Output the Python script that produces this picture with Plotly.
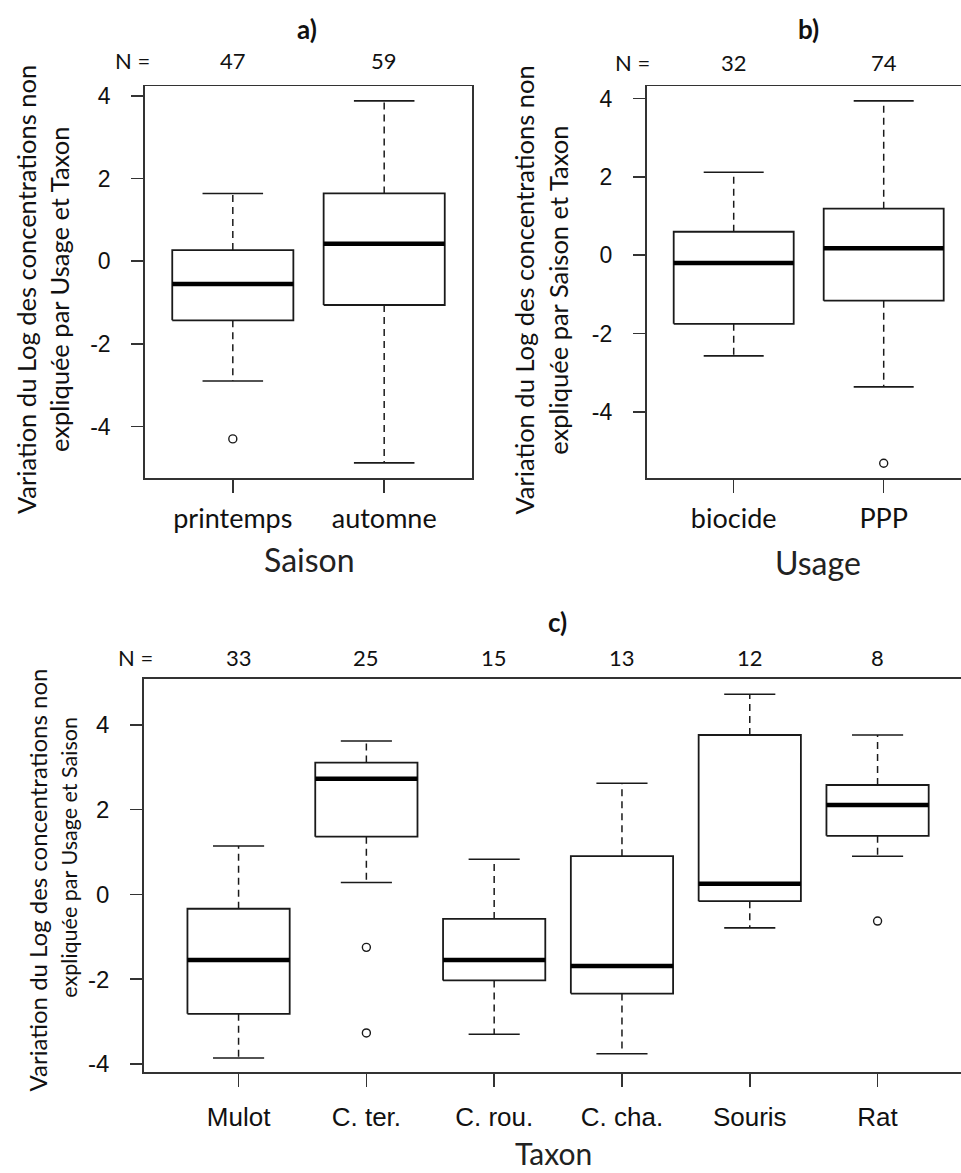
import plotly.graph_objects as go

W, H = 961, 1173

# ---------------- data ----------------
# Panel a) Saison
a_cats = ["printemps", "automne"]
a_n = [47, 59]
a_lw = [-2.90, -4.88]
a_q1 = [-1.43, -1.06]
a_med = [-0.55, 0.42]
a_q3 = [0.27, 1.64]
a_uw = [1.64, 3.88]
a_out = [[-4.30], []]

# Panel b) Usage
b_cats = ["biocide", "PPP"]
b_n = [32, 74]
b_lw = [-2.57, -3.36]
b_q1 = [-1.75, -1.16]
b_med = [-0.20, 0.18]
b_q3 = [0.60, 1.19]
b_uw = [2.12, 3.94]
b_out = [[], [-5.31]]

# Panel c) Taxon
c_cats = ["Mulot", "C. ter.", "C. rou.", "C. cha.", "Souris", "Rat"]
c_n = [33, 25, 15, 13, 12, 8]
c_lw = [-3.86, 0.28, -3.30, -3.76, -0.79, 0.90]
c_q1 = [-2.82, 1.36, -2.03, -2.34, -0.16, 1.38]
c_med = [-1.55, 2.73, -1.55, -1.69, 0.25, 2.11]
c_q3 = [-0.34, 3.11, -0.58, 0.90, 3.76, 2.58]
c_uw = [1.14, 3.62, 0.83, 2.62, 4.72, 3.76]
c_out = [[], [-1.25, -3.27], [], [], [], [-0.63]]

y_ticks = [-4, -2, 0, 2, 4]

# ---------------- helpers ----------------
def px(p):
    return p / W

def py(p):
    return 1 - p / H

BOXW = 0.4   # half box width (R default 0.8)
CAPW = 0.2   # half staple width
LINE = "#1a1a1a"


def box_traces(cats, lw, q1, med, q3, uw, outs, xa, ya):
    bx, by, mx, my, wx, wy, cx, cy, ox, oy = [], [], [], [], [], [], [], [], [], []
    for i in range(len(cats)):
        c = i + 1
        bx += [c - BOXW, c + BOXW, c + BOXW, c - BOXW, c - BOXW, None]
        by += [q1[i], q1[i], q3[i], q3[i], q1[i], None]
        mx += [c - BOXW, c + BOXW, None]
        my += [med[i], med[i], None]
        wx += [c, c, None, c, c, None]
        wy += [q3[i], uw[i], None, q1[i], lw[i], None]
        cx += [c - CAPW, c + CAPW, None, c - CAPW, c + CAPW, None]
        cy += [uw[i], uw[i], None, lw[i], lw[i], None]
        for o in outs[i]:
            ox.append(c)
            oy.append(o)
    common = dict(xaxis=xa, yaxis=ya, showlegend=False, hoverinfo="skip")
    return [
        go.Scatter(x=wx, y=wy, mode="lines", line=dict(color=LINE, width=1.5, dash="7px,5px"), **common),
        go.Scatter(x=cx, y=cy, mode="lines", line=dict(color=LINE, width=1.6), **common),
        go.Scatter(x=bx, y=by, mode="lines", line=dict(color=LINE, width=1.8), fill="toself",
                   fillcolor="white", **common),
        go.Scatter(x=mx, y=my, mode="lines", line=dict(color="black", width=4.5), **common),
        go.Scatter(x=ox, y=oy, mode="markers",
                   marker=dict(symbol="circle-open", size=8, color=LINE, line=dict(width=1.4)), **common),
    ]


fig = go.Figure()
for t in box_traces(a_cats, a_lw, a_q1, a_med, a_q3, a_uw, a_out, "x", "y"):
    fig.add_trace(t)
for t in box_traces(b_cats, b_lw, b_q1, b_med, b_q3, b_uw, b_out, "x2", "y2"):
    fig.add_trace(t)
for t in box_traces(c_cats, c_lw, c_q1, c_med, c_q3, c_uw, c_out, "x3", "y3"):
    fig.add_trace(t)

LAT = "Lato, 'Open Sans', sans-serif"
ARI = "'Liberation Sans', Arial, sans-serif"
AXC = "#333333"

def xax(domain, rng, cats, font, size, standoff, mirror=True):
    return dict(domain=domain, range=rng, tickvals=list(range(1, len(cats) + 1)), ticktext=cats,
                ticks="outside", ticklen=13, tickwidth=1.5, tickcolor=AXC,
                showline=True, linecolor=AXC, linewidth=1.8, mirror=mirror,
                showgrid=False, zeroline=False, fixedrange=True,
                tickfont=dict(family=font, size=size, color="#111"), ticklabelstandoff=standoff)

def yax(domain, rng, mirror, size, anchor):
    return dict(domain=domain, range=rng, tickvals=y_ticks, ticktext=[str(v) for v in y_ticks],
                ticks="outside", ticklen=12, tickwidth=1.5, tickcolor=AXC,
                showline=True, linecolor=AXC, linewidth=1.8, mirror=mirror,
                showgrid=False, zeroline=False, fixedrange=True, anchor=anchor,
                tickfont=dict(family=ARI, size=size, color="#111"), ticklabelstandoff=16)

top_dom = [py(478), py(84)]
bot_dom = [py(1076.7), py(680.7)]

fig.update_layout(
    width=W, height=H, autosize=False,
    margin=dict(l=0, r=0, t=0, b=0),
    paper_bgcolor="white", plot_bgcolor="white",
    xaxis=dict(xax([px(145), px(472)], [0.42, 2.58], a_cats, LAT, 27, 3), anchor="y"),
    yaxis=yax(top_dom, [-5.24, 4.23], True, 23, "x"),
    xaxis2=dict(xax([px(646.7), 1.0], [0.42, 0.42 + (W - 646.7) / 150.0], b_cats, LAT, 27, 3), anchor="y2"),
    yaxis2=yax(top_dom, [-5.68, 4.31], False, 23, "x2"),
    xaxis3=dict(xax([px(144), 1.0], [0.26, 0.26 + (W - 144) / 127.8], c_cats, ARI, 26, 8), anchor="y3"),
    yaxis3=yax(bot_dom, [-4.20, 5.08], False, 24, "x3"),
)

ann = []
def text(x, y, s, size, font=LAT, bold=False, angle=0, xref="paper", color="#111"):
    ann.append(dict(x=x, y=y, xref=xref, yref="paper", text=("<b>%s</b>" % s) if bold else s,
                    showarrow=False, xanchor="center", yanchor="middle", textangle=angle,
                    font=dict(family=font, size=size, color=color)))

# titles
text(px(307), py(26), "a)", 26, bold=True)
text(px(808), py(26.5), "b)", 26, bold=True)
text(px(557), py(623), "c)", 26, bold=True)

# N = labels
text(px(132), py(58), "N =", 22)
for i, n in enumerate(a_n):
    text(i + 1, py(58), str(n), 22, xref="x")
text(px(632), py(60), "N =", 22)
for i, n in enumerate(b_n):
    text(i + 1, py(60), str(n), 22, xref="x2")
text(px(135), py(659), "N =", 22)
for i, n in enumerate(c_n):
    text(i + 1, py(659), str(n), 22, xref="x3")

# axis titles
text(px(309), py(560), "Saison", 32, color="#222")
text(px(818), py(563), "Usage", 32, color="#222")
text(px(553), py(1158), "Taxon", 30, color="#222")

# y-axis titles (two lines each)
text(px(26), py(289), "Variation du Log des concentrations non", 25.5, angle=-90)
text(px(59), py(289), "expliquée par Usage et Taxon", 25.5, angle=-90)
text(px(524.5), py(289), "Variation du Log des concentrations non", 25.5, angle=-90)
text(px(557.7), py(289), "expliquée par Saison et Taxon", 25.5, angle=-90)
text(px(37.5), py(883), "Variation du Log des concentrations non", 24, angle=-90)
text(px(69.5), py(860), "expliquée par Usage et Saison", 21.5, angle=-90)

fig.update_layout(annotations=ann)
fig.write_html("out.html", config={"displayModeBar": False, "staticPlot": True},
               post_script="document.body.style.margin='0';document.body.style.padding='0';")
